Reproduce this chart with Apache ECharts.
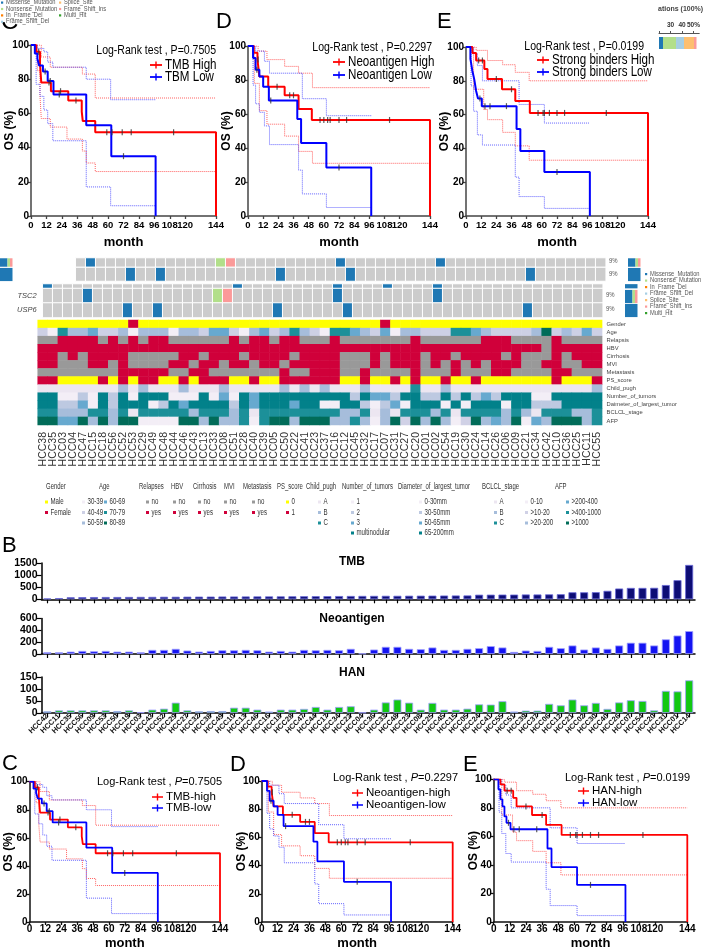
<!DOCTYPE html>
<html>
<head>
<meta charset="utf-8">
<script src="https://cdn.jsdelivr.net/npm/echarts@6/dist/echarts.min.js"></script>
<style>
html,body{margin:0;padding:0;background:#fff;}
#chart{width:703px;height:951px;}
</style>
</head>
<body>
<div id="chart"></div>
<script>
// ================= DATA =================
const samples = ['HCC38','HCC35','HCC03','HCC04','HCC47','HCC15','HCC18','HCC56','HCC52','HCC53','HCC29','HCC49','HCC48','HCC44','HCC46','HCC43','HCC13','HCC33','HCC08','HCC51','HCC28','HCC40','HCC39','HCC05','HCC50','HCC22','HCC41','HCC23','HCC37','HCC16','HCC12','HCC45','HCC32','HCC17','HCC07','HCC31','HCC27','HCC20','HCC01','HCC02','HCC54','HCC19','HCC30','HCC24','HCC14','HCC26','HCC06','HCC09','HCC21','HCC34','HCC42','HCC10','HCC36','HCC25','HCC11','HCC55'];

const mutTypes = ['Missense_Mutation','Nonsense_Mutation','In_Frame_Del','Frame_Shift_Del','Splice_Site','Frame_Shift_Ins','Multi_Hit'];
const mutColors = ['#1F78B4','#B2DF8A','#FF7F00','#A6CEE3','#FDBF6F','#FB9A99','#33A02C'];

const geneNames = ['TSC2','USP6'];
const topGeneCols = [0,19,29,34,39];
const topGeneTypes = [0,0,0,0,0];
const tsc2Cols = [4,17,18,29,39];
const tsc2Types = [0,1,5,0,0];
const usp6Cols = [8,11,23,30,48];
const usp6Types = [0,0,0,0,0];

const clinicalRows = ['Gender','Age','Relapsis','HBV','Cirrhosis','MVI','Metastasis','PS_score','Child_pugh','Number_of_tumors','Daimeter_of_largest_tumor','BCLCL_stage','AFP'];
const genderCode = [0,0,0,0,0,0,0,0,0,1, 0,0,0,0,0,0,0,0,0,0, 0,0,0,0,0,0,0,0,0,0, 0,0,0,0,1,0,0,0,0,0, 0,0,0,0,0,0,0,0,0,0, 0,0,0,0,0,0];
const ageCode = [2,1,5,3,3,4,2,2,3,1, 3,3,3,1,3,3,2,4,4,2, 1,3,4,2,3,5,3,2,1,5, 5,4,3,2,4,1,3,3,2,2, 2,5,5,4,3,2,2,2,2,3, 6,2,3,2,4,2];
const relapseCode = [0,0,1,1,1,1,0,1,0,1, 0,1,1,0,0,0,0,0,0,1, 0,1,1,0,1,1,0,0,0,1, 0,0,0,0,0,0,0,1,0,0, 0,0,0,0,1,1,1,0,0,0, 0,1,0,0,0,0];
const hbvCode = [1,1,1,1,1,1,1,1,1,1, 1,1,1,1,1,1,1,1,1,1, 1,1,1,1,1,1,1,1,1,1, 1,1,1,1,1,1,1,1,1,1, 1,1,1,1,1,1,1,1,1,1, 0,1,1,1,1,1];
const cirrhosisCode = [1,1,0,1,0,1,1,1,1,0, 0,0,0,0,1,1,0,1,1,1, 0,1,1,1,1,0,1,1,1,1, 0,0,0,1,0,1,1,1,0,1, 1,0,1,1,1,1,0,1,0,0, 0,1,0,1,1,1];
const mviCode = [1,1,0,0,0,1,1,0,1,0, 0,0,0,1,1,0,1,1,0,1, 1,0,1,1,0,1,1,1,1,1, 0,0,0,1,0,1,1,1,0,1, 0,1,0,1,0,1,1,1,0,0, 1,1,0,0,1,1];
const metastasisCode = [0,0,0,0,0,0,0,0,1,1, 1,1,1,0,0,1,1,0,0,0, 0,0,0,0,1,0,0,1,1,1, 0,0,1,0,0,0,0,1,0,0, 0,1,0,0,0,1,1,0,0,0, 0,1,1,0,0,0];
const psCode = [1,1,0,0,0,0,1,0,1,0, 1,1,0,0,1,0,1,1,1,0, 0,1,0,0,1,1,1,1,1,1, 0,0,1,0,0,1,0,1,0,0, 1,0,0,1,0,0,0,0,0,0, 0,1,0,0,0,1];
const childCode = [1,1,1,1,1,1,1,1,2,1, 2,1,1,1,2,1,1,1,2,1, 1,1,1,1,2,1,2,1,2,1, 1,1,2,1,1,1,1,3,1,1, 2,1,1,1,1,1,1,1,1,1, 1,1,1,1,1,2];
const numberCode = [4,4,1,1,2,1,4,2,4,1, 4,4,4,1,1,1,4,1,3,1, 4,3,4,4,4,4,4,4,4,4, 4,2,4,3,3,2,4,4,2,2, 4,2,4,2,3,2,4,4,4,1, 1,4,4,4,4,4];
const diameterCode = [4,4,2,2,3,1,4,2,4,4, 4,1,2,4,3,4,4,4,4,2, 4,3,4,4,4,3,4,4,1,1, 4,4,2,1,2,3,1,4,4,4, 1,4,1,4,4,4,1,4,4,2, 2,2,4,4,4,4];
const bclcCode = [3,3,2,2,2,3,3,2,3,1, 3,3,3,3,3,2,3,3,3,2, 3,1,3,3,3,3,3,3,3,3, 2,2,3,1,2,1,3,3,3,2, 3,1,3,3,3,3,2,3,2,1, 3,3,3,2,2,3];
const afpCode = [6,6,4,4,6,3,6,3,6,6, 1,1,1,1,6,6,3,6,3,3, 5,1,5,6,6,3,6,6,6,3, 3,5,3,1,3,6,2,6,3,6, 3,1,2,6,3,4,3,6,1,4, 3,6,6,6,3,5];

const yesNoLabels = ['no','yes'];
const yesNoColors = ['#999999','#D0003A'];
const genderLabels = ['Male','Female'];
const genderColors = ['#FFFF00','#D0003A'];
const psLabels = ['0','1'];
const psColors = ['#FFFF00','#D0003A'];
const ageLabels = ['30-39','40-49','50-59','60-69','70-79','80-89'];
const ageColors = ['#F3EEF6','#CDD0E5','#A6BDDB','#67A9CF','#1C9099','#016C59'];
const childLabels = ['A','B','C'];
const childColors = ['#ECE6F1','#A6BDDB','#1C9099'];
const numberLabels = ['1','2','3','multinodular'];
const numberColors = ['#F3EEF6','#BDC9E1','#67A9CF','#02818A'];
const diameterLabels = ['0-30mm','30-50mm','50-65mm','65-200mm'];
const diameterColors = ['#F3EEF6','#BDC9E1','#67A9CF','#02818A'];
const bclcLabels = ['A','B','C'];
const bclcColors = ['#ECE6F1','#A6BDDB','#1C9099'];
const afpLabels = ['0-10','>10-20','>20-200','>200-400','>400-1000','>1000'];
const afpColors = ['#F3EEF6','#D0D1E6','#A6BDDB','#67A9CF','#1C9099','#016C59'];

// Panel B
const barSamples = ['HCC42','HCC11','HCC35','HCC56','HCC09','HCC53','HCC50','HCC19','HCC03','HCC43','HCC52','HCC29','HCC27','HCC32','HCC38','HCC49','HCC10','HCC13','HCC46','HCC16','HCC18','HCC28','HCC47','HCC44','HCC17','HCC34','HCC22','HCC04','HCC36','HCC33','HCC48','HCC23','HCC08','HCC25','HCC45','HCC15','HCC05','HCC24','HCC41','HCC55','HCC51','HCC39','HCC37','HCC06','HCC12','HCC21','HCC02','HCC30','HCC40','HCC26','HCC07','HCC54','HCC20','HCC31','HCC01','HCC14'];
const tmbValues = [35,50,85,90,92,95,95,98,100,100,105,105,108,110,112,115,115,118,120,120,122,125,128,130,132,135,138,140,142,145,145,148,150,152,155,158,160,190,192,195,195,200,200,205,210,290,290,295,350,445,470,470,475,590,790,1420];
const neoValues = [29,29,40,52,46,52,40,40,29,69,69,87,58,40,52,63,63,69,63,40,52,40,69,63,69,63,87,8,75,121,121,87,81,110,69,69,87,98,133,110,35,58,52,121,98,144,75,110,87,144,190,190,144,248,312,387];
const hanValues = [7,11,11,11,11,11,8,11,3,14,18,43,11,7,8,8,22,22,14,6,14,14,17,25,14,25,28,2,14,44,56,43,14,42,14,14,18,36,35,49,6,10,10,38,32,56,32,42,17,44,53,50,11,92,90,136];
const tmbTicks = [0,500,1000,1500];
const neoTicks = [0,200,400,600];
const hanTicks = [0,50,100,150];

// KM curves (time in months, OS %)
const tmbHighT = [0,4,7,8,15.5,29,39.5,40.3,50,144];
const tmbHighS = [100,96,89,78,73,67.5,61,55.5,49,0];
const tmbLowT = [0,3,5,6.3,9.3,13,17.5,43,62.5,97];
const tmbLowS = [100,95,92,88,84.5,79,71,53,35,0];
const tmbHighCensor = [6,14,23,35,59,63,71,78,111];
const tmbLowCensor = [11,15,22,72];
const tmbHighUpT = [0,8,15,40,50,144], tmbHighUpS = [100,93,87,83,69,69];
const tmbHighLoT = [0,5,7,8,15,28,40,43,50,144], tmbHighLoS = [100,85,70,57,52,45,38,31,26,26];
const tmbLowUpT = [0,5,10,13,17,43,62,97], tmbLowUpS = [100,98,96,90,87,80,68,68];
const tmbLowLoT = [0,4,7,10,13,17,43,62,97], tmbLowLoS = [100,77,70,62,54,44,17,6,6];

const neoHighT = [0,4.5,7.5,9,16,29,40,50.5,144];
const neoHighS = [100,96,92,82,76,71,63,56.5,0];
const neoLowT = [0,4,6,9,12,16.5,39,42,62,97.5];
const neoLowS = [100,93,86,82,76,68,57,43,28.5,0];
const neoHighCensor = [8,23,33,36,57,60,63,65,72,78,112];
const neoLowCensor = [7,18,72];
const neoHighUpT = [0,8,15,29,40,51,144], neoHighUpS = [100,97,92,88,84,75.5,75.5];
const neoHighLoT = [0,5,9,15,29,40,51,144], neoHighLoS = [100,78,62,54,47,38,31,31];
const neoLowUpT = [0,6,13,17,40,43,62,97.5], neoLowUpS = [100,97,91,84,84,69,59,59];
const neoLowLoT = [0,4,6,9,13,17,40,43,62,97.5], neoLowLoS = [100,77,66,61,53,42,27,13,5,5];

const hanHighT = [0,5,8,14.5,17,28.5,39,50.5,144];
const hanHighS = [100,96.5,92,87,81,75,68,61,0];
const hanLowT = [0,3.5,5,6.5,8,9.5,12.5,40,43,62,98];
const hanLowS = [100,93,86,81,74,69.5,65,51.5,38.5,26,0];
const hanHighCensor = [10,13,24,36,57,61,62,66,72,78,111];
const hanLowCensor = [11,15,19,32,72];
const hanHighUpT = [0,8,17,29,39,50,144], hanHighUpS = [100,98,92,89.5,85,80,80];
const hanHighLoT = [0,6,14,17,29,39,50,144], hanHighLoS = [100,75,63,57,49.5,41.5,33,33];
const hanLowUpT = [0,6,9,13,39,42,62,98], hanLowUpS = [100,96,89,80,80,66,55,55];
const hanLowLoT = [0,4,6,9,13,39,42,62,98], hanLowLoS = [100,77,62,48,42,23,11.5,4.5,4.5];

const kmPValues = ['0.7505','0.2297','0.0199'];
const kmTopNames = [['TMB High','TBM Low'],['Neoantigen High','Neoantigen Low'],['Strong binders High','Strong binders Low']];
const kmBottomNames = [['TMB-high','TMB-low'],['Neoantigen-high','Neoantigen-low'],['HAN-high','HAN-low']];

// ================= BUILD =================
const FA = "'Liberation Sans',Arial,sans-serif";

const option = {animation:false, backgroundColor:'#ffffff', grid:[], xAxis:[], yAxis:[], series:[], graphic:{elements:[]}};
function addGrid(g, x, y){
  const i = option.grid.length;
  option.grid.push(Object.assign({}, g));
  option.xAxis.push(Object.assign({gridIndex:i}, x));
  option.yAxis.push(Object.assign({gridIndex:i}, y));
  return i;
}
const G = option.graphic.elements;
function txt(x, y, text, o){
  o = o || {};
  const st = {text:text, fontSize:o.size||10, fontFamily:o.font||FA, fontWeight:o.weight||'normal', fontStyle:o.style||'normal',
    fill:o.color||'#000', textAlign:o.align||'left', align:o.align||'left', textVerticalAlign:o.valign||'middle', verticalAlign:o.valign||'middle'};
  if (o.rich) st.rich = o.rich;
  G.push({type:'text', x:x, y:y, z:o.z||20, scaleX:o.sx||1, rotation:o.rot||0, style:st, silent:true});
}
function rect(x, y, w, h, fill, z){ G.push({type:'rect', shape:{x:x,y:y,width:w,height:h}, style:{fill:fill}, z:z||20, silent:true}); }

// palette for heatmaps
const pal = [];
function pi(c){ let i = pal.indexOf(c); if (i < 0){ pal.push(c); i = pal.length - 1; } return i; }
const heatSeries = [];
const ONC_GRAY = '#CCCCCC';

function mutRow(cols, types){ const r = new Array(samples.length).fill(-1); cols.forEach((c,i)=>{ r[c] = types[i]; }); return r; }
const topGeneRow = mutRow(topGeneCols, topGeneTypes);
const tsc2Row = mutRow(tsc2Cols, tsc2Types);
const usp6Row = mutRow(usp6Cols, usp6Types);

function oncoGrid(left, top, width, height, rows, start, yNames, showNames){
  const cats = samples.slice(start);
  const gi = addGrid({left:left, top:top, width:width, height:height},
    {type:'category', data:cats, show:false},
    {type:'category', data:yNames, inverse:true, show:showNames, axisLine:{show:false}, axisTick:{show:false},
     axisLabel:{show:showNames, fontSize:7.5, fontStyle:'italic', color:'#444', margin:6, fontFamily:FA}});
  const data = [];
  rows.forEach((row, r)=>{ for (let c = start; c < row.length; c++){ data.push([c - start, r, pi(row[c] < 0 ? ONC_GRAY : mutColors[row[c]])]); } });
  option.series.push({type:'heatmap', xAxisIndex:gi, yAxisIndex:gi, data:data, itemStyle:{borderColor:'#ffffff', borderWidth:1}, emphasis:{disabled:true}, silent:true});
  heatSeries.push(option.series.length - 1);
}
oncoGrid(42.7, 284, 560, 4.5, [topGeneRow], 0, ['g'], false);
oncoGrid(42.7, 288.5, 560, 29, [tsc2Row, usp6Row], 0, geneNames, true);
oncoGrid(75.7, 258, 530, 9, [tsc2Row], 3, ['TSC2'], false);
oncoGrid(75.7, 267.5, 530, 13.5, [usp6Row], 3, ['USP6'], false);

function countTypes(row){ const c = new Array(mutTypes.length).fill(0); row.forEach(v=>{ if (v >= 0) c[v]++; }); return c; }
const geneCounts = {top:countTypes(topGeneRow), tsc2:countTypes(tsc2Row), usp6:countTypes(usp6Row)};
function sideBars(left, top, height, countsList){
  const gi = addGrid({left:left, top:top, width:12.5, height:height},
    {type:'value', min:0, max:5, show:false}, {type:'category', data:countsList.map((_,i)=>String(i)), inverse:true, show:false});
  mutTypes.forEach((m, t)=>{
    if (countsList.some(cn=>cn[t] > 0)){
      option.series.push({type:'bar', stack:'s'+gi, xAxisIndex:gi, yAxisIndex:gi, barCategoryGap:'6%', data:countsList.map(cn=>cn[t]), itemStyle:{color:mutColors[t]}, silent:true});
    }
  });
}
sideBars(625, 284, 4.5, [geneCounts.top]);
sideBars(625, 289.5, 28, [geneCounts.tsc2, geneCounts.usp6]);
sideBars(0, 258, 9, [geneCounts.tsc2]);
sideBars(0, 267.5, 14, [geneCounts.usp6]);
sideBars(628, 258, 9, [geneCounts.tsc2]);
sideBars(628, 267.5, 14, [geneCounts.usp6]);

function pct(row){ return Math.round(100 * row.filter(v=>v >= 0).length / row.length) + '%'; }
txt(606, 295.5, pct(tsc2Row), {size:7, color:'#555', sx:0.85});
txt(606, 309.5, pct(usp6Row), {size:7, color:'#555', sx:0.85});
txt(609, 261.5, pct(tsc2Row), {size:7, color:'#555', sx:0.85});
txt(609, 274.5, pct(usp6Row), {size:7, color:'#555', sx:0.85});

// clinical heatmap
const clinicalSpec = [
  [genderCode, genderColors, 0], [ageCode, ageColors, 1], [relapseCode, yesNoColors, 0], [hbvCode, yesNoColors, 0],
  [cirrhosisCode, yesNoColors, 0], [mviCode, yesNoColors, 0], [metastasisCode, yesNoColors, 0], [psCode, psColors, 0],
  [childCode, childColors, 1], [numberCode, numberColors, 1], [diameterCode, diameterColors, 1], [bclcCode, bclcColors, 1], [afpCode, afpColors, 1]
];
(function(){
  const gi = addGrid({left:37.7, top:320, width:564.4, height:105},
    {type:'category', data:samples, position:'bottom', axisLine:{show:false}, axisTick:{show:false},
     axisLabel:{interval:0, rotate:90, fontSize:10.5, color:'#333', margin:7, fontFamily:FA}},
    {type:'category', data:clinicalRows, inverse:true, position:'right', axisLine:{show:false}, axisTick:{show:false},
     axisLabel:{interval:0, fontSize:5.8, color:'#444', margin:4.5, fontFamily:FA}});
  const data = [];
  clinicalSpec.forEach((sp, r)=>{ sp[0].forEach((v, c)=>{ data.push([c, r, pi(sp[1][v - sp[2]])]); }); });
  option.series.push({type:'heatmap', xAxisIndex:gi, yAxisIndex:gi, data:data, itemStyle:{borderWidth:0}, emphasis:{disabled:true}, silent:true});
  heatSeries.push(option.series.length - 1);
})();

// clinical legend
const legendGroups = [
  ['Gender', genderLabels, genderColors, 2], ['Age', ageLabels, ageColors, 3], ['Relapses', yesNoLabels, yesNoColors, 2],
  ['HBV', yesNoLabels, yesNoColors, 2], ['Cirrhosis', yesNoLabels, yesNoColors, 2], ['MVI', yesNoLabels, yesNoColors, 2],
  ['Metastasis', yesNoLabels, yesNoColors, 2], ['PS_score', psLabels, psColors, 2], ['Child_pugh', childLabels, childColors, 3],
  ['Number_of_tumors', numberLabels, numberColors, 4], ['Diameter_of_largest_tumor', diameterLabels, diameterColors, 4],
  ['BCLCL_stage', bclcLabels, bclcColors, 3], ['AFP', afpLabels, afpColors, 3]
];
const legendLayout = [[46,[45]],[99,[82,104]],[139,[146]],[171,[173]],[193,[198]],[224,[224]],[243,[252]],[277,[286]],[306,[318]],[342,[351]],[398,[419]],[482,[494]],[555,[525,566]]];
const legRowY = [502, 512.5, 523, 533];
legendGroups.forEach((g, gi)=>{
  const lay = legendLayout[gi];
  txt(lay[0], 487, g[0], {size:8.5, color:'#333', sx:0.7});
  g[1].forEach((lab, k)=>{
    const col = Math.floor(k / g[3]), row = k % g[3];
    const sx = lay[1][col], y = legRowY[row];
    rect(sx, y - 1.5, 3, 3, g[2][k]);
    txt(sx + 5.5, y, lab, {size:8.5, color:'#333', sx:0.72});
  });
});

// mutation legends
mutTypes.forEach((m, i)=>{
  const y = 274 + i * 6.5;
  rect(645, y - 1, 2.2, 2.2, mutColors[i]);
  txt(650, y, m, {size:6.4, color:'#555', sx:0.9});
});
rect(0, 0, 112, 22, '#ffffff', 11);
mutTypes.forEach((m, i)=>{
  const col = i < 4 ? 0 : 1, row = i < 4 ? i : i - 4;
  const x = col === 0 ? 1 : 59, y = 2.5 + row * 6.4;
  rect(x, y - 1, 2.2, 2.2, mutColors[i], 12);
  txt(x + 5, y, m, {size:6.4, color:'#555', z:12, sx:0.9});
});

// top-right fraction bar
const fracValues = [4, 13, 8, 10, 2.5];
const fracColors = ['#1F78B4','#B2DF8A','#A6CEE3','#FDBF6F','#FB9A99'];
(function(){
  const gi = addGrid({left:659, top:37, width:44, height:12}, {type:'value', min:0, max:44, show:false}, {type:'category', data:['f'], show:false});
  fracValues.forEach((v, i)=>{ option.series.push({type:'bar', stack:'frac', xAxisIndex:gi, yAxisIndex:gi, barWidth:12, data:[v], itemStyle:{color:fracColors[i]}, silent:true}); });
  addGrid({left:659, top:32, width:44, height:1},
    {type:'value', min:20, max:55, interval:10, position:'top', axisLine:{show:true, lineStyle:{color:'#555', width:1}}, axisTick:{show:true, length:2, lineStyle:{color:'#555'}},
     axisLabel:{fontSize:6.5, color:'#333', fontWeight:'bold', margin:3, formatter:v=> v < 25 ? '' : (v >= 50 ? v + '%' : String(v))}, splitLine:{show:false}},
    {type:'value', show:false});
})();
txt(658, 9, 'ations (100%)', {size:7, color:'#444', weight:'bold'});

// ---------- KM panels ----------
function survAt(T, S, t){ let v = S[0]; for (let i = 0; i < T.length; i++){ if (T[i] <= t) v = S[i]; } return v; }
const kmSets = [
  {hi:[tmbHighT,tmbHighS,tmbHighCensor,tmbHighUpT,tmbHighUpS,tmbHighLoT,tmbHighLoS], lo:[tmbLowT,tmbLowS,tmbLowCensor,tmbLowUpT,tmbLowUpS,tmbLowLoT,tmbLowLoS]},
  {hi:[neoHighT,neoHighS,neoHighCensor,neoHighUpT,neoHighUpS,neoHighLoT,neoHighLoS], lo:[neoLowT,neoLowS,neoLowCensor,neoLowUpT,neoLowUpS,neoLowLoT,neoLowLoS]},
  {hi:[hanHighT,hanHighS,hanHighCensor,hanHighUpT,hanHighUpS,hanHighLoT,hanHighLoS], lo:[hanLowT,hanLowS,hanLowCensor,hanLowUpT,hanLowUpS,hanLowLoT,hanLowLoS]}
];
const kmTopLayout = [
  {left:31, top:45, width:185, height:171, tx:216, ty:50, lx:150, ly:[65,77]},
  {left:248, top:46, width:182, height:170, tx:432, ty:47, lx:333, ly:[62,75]},
  {left:466, top:47, width:182, height:169, tx:644, ty:46, lx:537, ly:[60,72]}
];
const kmBotLayout = [
  {left:29.5, top:781.7, width:190.5, height:141.6, tx:97, ty:782, lx:152, ly:[797,808]},
  {left:261.7, top:781, width:191, height:141.7, tx:333, ty:778, lx:352, ly:[793,805]},
  {left:493.7, top:779.3, width:193.6, height:143.4, tx:565, ty:778, lx:578, ly:[791,803]}
];
function addKM(set, names, lay, st, p){
  const gi = addGrid({left:lay.left, top:lay.top, width:lay.width, height:lay.height},
    {type:'value', min:0, max:144, interval:12, axisLine:{show:true, onZero:false, lineStyle:{color:st.axis, width:1.5}},
     axisTick:{show:true, length:3, lineStyle:{color:st.axis, width:1.3}}, splitLine:{show:false},
     axisLabel:{fontSize:st.tick, fontWeight:'bold', color:'#000', margin:st.xm, fontFamily:FA, showMinLabel:true, showMaxLabel:true, hideOverlap:false},
     name:'month', nameLocation:'middle', nameGap:st.ng, nameMoveOverlap:false, nameTextStyle:{fontSize:13, fontWeight:'bold', color:'#000', fontFamily:FA}},
    {type:'value', min:0, max:100, interval:20, axisLine:{show:true, lineStyle:{color:st.axis, width:1.5}},
     axisTick:{show:true, length:3, lineStyle:{color:st.axis, width:1.3}}, splitLine:{show:false},
     axisLabel:{fontSize:st.ytick, fontWeight:'bold', color:'#000', margin:2, fontFamily:FA, showMinLabel:true, showMaxLabel:true},
     name:'OS (%)', nameLocation:'middle', nameGap:st.yg, nameMoveOverlap:false, nameRotate:90, nameTextStyle:{fontSize:12, fontWeight:'bold', color:'#000', fontFamily:FA}});
  const line = (T, S, color, w, type, z)=>{
    option.series.push({type:'line', step:'end', xAxisIndex:gi, yAxisIndex:gi, data:T.map((t,i)=>[t, S[i]]), showSymbol:false, symbol:'none',
      lineStyle:{color:color, width:w, type:type}, itemStyle:{color:color}, z:z, silent:true});
  };
  const groups = [[set.hi, '#FF0000', 'rgba(255,70,70,0.85)'], [set.lo, '#0000FF', 'rgba(70,70,255,0.85)']];
  groups.forEach(g=>{ line(g[0][3], g[0][4], g[2], 1, 'dotted', 2); line(g[0][5], g[0][6], g[2], 1, 'dotted', 2); });
  groups.forEach(g=>{ line(g[0][0], g[0][1], g[1], st.lw, 'solid', 3); });
  groups.forEach(g=>{
    option.series.push({type:'scatter', xAxisIndex:gi, yAxisIndex:gi, data:g[0][2].map(t=>[t, survAt(g[0][0], g[0][1], t)]),
      symbol:'rect', symbolSize:[1.2, 6], itemStyle:{color:'#333'}, z:5, silent:true});
  });
  groups.forEach((g, k)=>{
    const y = lay.ly[k];
    rect(lay.lx, y - st.lt / 2, st.iw, st.lt, g[1]);
    rect(lay.lx + st.iw / 2 - 0.7, y - 3.5, 1.4, 7, g[1]);
    txt(lay.lx + st.iw + 3, y, names[k], {size:st.lf, sx:st.sx});
  });
  if (st.top){
    txt(lay.tx, lay.ty, 'Log-Rank test , P=' + p, {size:13.5, align:'right', sx:0.78});
  } else {
    txt(lay.tx, lay.ty, 'Log-Rank test , {i|P}=' + p, {size:11, rich:{i:{fontStyle:'italic', fontSize:11, fontFamily:FA}}});
  }
}
const topStyle = {top:true, axis:'#444', tick:9.5, ytick:10, xm:4.5, ng:20, yg:15, lw:2, iw:12, lt:1.8, lf:14.5, sx:0.8};
const botStyle = {top:false, axis:'#111', tick:10, ytick:10, xm:2.5, ng:15, yg:14.5, lw:1.8, iw:11, lt:1.5, lf:11.5, sx:1};
for (let k = 0; k < 3; k++){
  addKM(kmSets[k], kmTopNames[k], kmTopLayout[k], topStyle, kmPValues[k]);
  addKM(kmSets[k], kmBottomNames[k], kmBotLayout[k], botStyle, kmPValues[k]);
}

// ---------- Panel B bars ----------
function addBars(values, top, height, ticks, color, border, labels, title, titleY){
  const gi = addGrid({left:41.5, top:top, width:653.5, height:height},
    {type:'category', data:barSamples, axisLine:{show:true, lineStyle:{color:'#000', width:1.5}},
     axisTick:{show:true, alignWithLabel:true, length:4, lineStyle:{color:'#000', width:1.2}},
     axisLabel:{show:labels, interval:0, rotate:45, fontSize:7.5, fontWeight:'bold', color:'#111', margin:2, fontFamily:FA}},
    {type:'value', min:ticks[0], max:ticks[ticks.length-1], interval:ticks[1]-ticks[0], axisLine:{show:true, lineStyle:{color:'#000', width:1.5}},
     axisTick:{show:true, length:5, lineStyle:{color:'#000', width:1.2}}, splitLine:{show:false},
     axisLabel:{fontSize:10.5, fontWeight:'bold', color:'#000', margin:4, fontFamily:FA, formatter:v=>String(v)}});
  option.series.push({type:'bar', xAxisIndex:gi, yAxisIndex:gi, data:values, barWidth:8, itemStyle:{color:color, borderColor:border, borderWidth:0.8}, silent:true});
  txt(352, titleY, title, {size:12, weight:'bold', align:'center'});
}
addBars(tmbValues, 563, 36.3, tmbTicks, '#0D0D75', '#6A6AD8', false, 'TMB', 562);
addBars(neoValues, 618.5, 35.5, neoTicks, '#1414F2', '#A0A0FF', false, 'Neoantigen', 619);
addBars(hanValues, 677, 36, hanTicks, '#12C812', '#A0A0FF', true, 'HAN', 673);

// panel letters
txt(1, 22, 'C', {size:24, z:10});
txt(216, 22, 'D', {size:22});
txt(437, 22, 'E', {size:22});
txt(2, 546, 'B', {size:22});
txt(2, 764, 'C', {size:22});
txt(230, 765, 'D', {size:22});
txt(463, 765, 'E', {size:22});

option.visualMap = [{type:'piecewise', show:false, dimension:2, seriesIndex:heatSeries, pieces:pal.map((c,i)=>({value:i, color:c}))}];

const chart = echarts.init(document.getElementById('chart'), null, {renderer:'canvas'});
chart.setOption(option);
</script>
</body>
</html>
